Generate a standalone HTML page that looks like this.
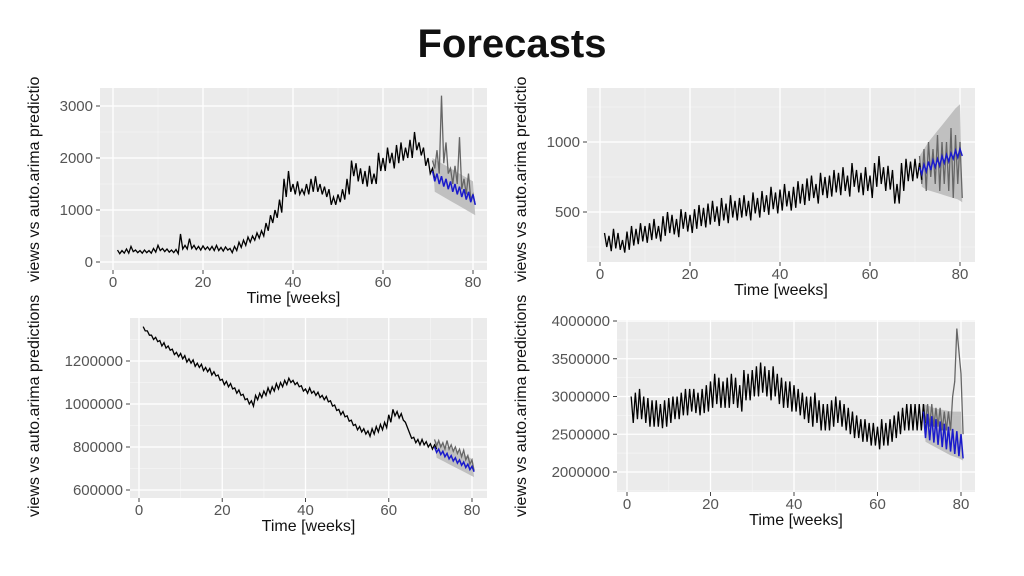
<!DOCTYPE html>
<html><head><meta charset="utf-8"><style>
html,body{margin:0;padding:0;background:#fff;}
svg{display:block;font-family:"Liberation Sans",Arial,sans-serif;}
</style></head><body>
<svg id="chart" width="1024" height="576" viewBox="0 0 1024 576" xmlns="http://www.w3.org/2000/svg">
<text x="512" y="57" text-anchor="middle" font-size="40" font-weight="bold" fill="#111">Forecasts</text>
</svg>
<script>
// ---- Panel 1 data (weekly high / low) ----
const p1Hi=[230,220,250,300,230,220,230,220,260,320,260,250,230,240,540,320,450,320,300,310,290,300,320,280,290,260,300,380,420,480,500,560,600,750,900,1000,1200,1600,1750,1500,1550,1400,1500,1600,1650,1500,1450,1400,1250,1300,1400,1600,1950,1900,1800,1750,1850,1700,2100,2000,2200,2100,2250,2300,2200,2350,2500,2300,2200,2000,1800];
const p1Lo=[160,170,170,200,180,170,180,170,190,220,200,190,180,160,250,250,260,240,230,240,230,220,220,210,230,180,220,280,320,380,420,460,500,600,750,850,950,1250,1350,1300,1300,1300,1300,1350,1350,1300,1250,1100,1100,1150,1200,1300,1650,1550,1500,1450,1500,1500,1750,1750,1900,1800,1900,1950,2000,2000,2150,2050,1850,1700,1600];
const p1FcHi=[1750,1700,1650,1600,1550,1500,1450,1400,1350,1300];
const p1FcLo=[1550,1500,1450,1400,1350,1300,1250,1200,1150,1100];
const p1BandUp=[2000,1950,1900,1850,1800,1750,1700,1650,1600,1550];
const p1BandLow=[1350,1300,1250,1200,1150,1100,1050,1000,950,900];
const p1ActHi=[1950,2150,3200,2300,1800,1850,2400,1600,1700,1300];
const p1ActLo=[1800,1700,1900,1700,1500,1500,1400,1300,1200,1100];
// ---- Panel 2 data ----
const p2Hi=[350,330,380,350,300,360,400,380,420,400,420,450,400,470,500,480,450,520,500,480,520,550,530,560,580,540,600,560,620,580,600,620,580,640,600,650,620,680,640,660,700,650,680,720,700,740,760,700,780,750,760,800,780,820,760,850,800,780,820,760,850,900,820,830,800,700,850,880,860,880,850];
const p2Lo=[250,220,240,230,210,230,260,270,290,280,300,310,290,330,350,340,320,380,360,350,380,400,390,410,430,400,440,420,460,440,460,470,440,490,460,500,480,520,490,510,540,510,530,560,550,580,600,560,620,600,610,640,620,650,610,680,640,620,650,600,680,700,650,660,560,560,650,720,720,740,730];
const p2FcHi=[820,840,860,870,880,900,910,920,940,950];
const p2FcLo=[770,790,800,820,830,850,860,880,890,900];
const p2BandUp=[900,950,1000,1040,1080,1120,1160,1200,1240,1270];
const p2BandLow=[680,660,650,640,630,620,610,600,590,570];
const p2ActHi=[900,950,1000,950,1050,1000,1000,1100,1050,1000];
const p2ActLo=[700,650,750,700,650,700,650,600,700,600];
// ---- Panel 3 data ----
const p3Hi=[1360,1340,1320,1310,1295,1285,1270,1255,1240,1235,1225,1210,1205,1190,1185,1170,1165,1150,1135,1115,1105,1095,1075,1065,1045,1025,1015,1040,1050,1060,1075,1080,1095,1100,1110,1120,1110,1100,1085,1070,1075,1060,1055,1040,1035,1015,995,975,965,945,925,905,895,885,875,885,895,905,915,950,975,965,955,915,865,845,835,835,825,815,810];
const p3Lo=[1340,1320,1300,1290,1270,1260,1250,1230,1220,1210,1195,1190,1175,1170,1155,1150,1135,1130,1110,1090,1080,1070,1050,1040,1020,1000,990,1020,1030,1040,1050,1060,1070,1080,1090,1100,1090,1080,1060,1050,1050,1040,1030,1020,1010,990,970,950,940,920,900,880,870,860,850,860,870,880,890,915,945,935,925,890,840,820,810,810,800,790,790];
const p3FcHi=[800,790,780,770,760,750,740,730,720,710];
const p3FcLo=[775,765,755,745,735,725,715,705,695,685];
const p3BandUp=[830,820,810,800,795,785,775,765,755,745];
const p3BandLow=[750,740,730,720,710,700,690,680,670,660];
const p3ActHi=[835,830,820,830,810,800,790,785,760,740];
const p3ActLo=[805,800,790,790,780,770,755,740,720,690];
// ---- Panel 4 data (thousands) ----
const p4Hi=[3000,3050,3100,3000,2980,2950,2950,2900,2950,2980,3000,3000,3050,3100,3100,3100,3050,3100,3150,3200,3300,3250,3200,3250,3300,3250,3150,3350,3300,3350,3400,3450,3400,3350,3400,3300,3250,3200,3200,3150,3100,3050,3000,3000,3050,2950,2900,2900,2950,3000,2950,2900,2850,2800,2750,2700,2700,2650,2650,2600,2700,2650,2700,2750,2800,2850,2900,2900,2900,2900,2900];
const p4Lo=[2650,2700,2700,2650,2600,2600,2600,2580,2600,2650,2700,2700,2750,2750,2800,2780,2750,2780,2800,2850,2900,2850,2850,2850,2900,2850,2800,2950,2950,3000,3000,3050,3000,2950,3000,2900,2850,2850,2800,2800,2750,2700,2650,2600,2650,2550,2550,2550,2600,2650,2600,2550,2500,2450,2450,2400,2400,2350,2350,2300,2350,2350,2400,2450,2500,2550,2550,2550,2550,2550,2550];
const p4FcHi=[2800,2770,2740,2700,2670,2640,2600,2570,2540,2500];
const p4FcLo=[2450,2420,2390,2360,2330,2300,2270,2240,2210,2180];
const p4BandUp=[2900,2880,2860,2840,2830,2820,2810,2800,2800,2800];
const p4BandLow=[2400,2370,2340,2310,2280,2250,2220,2200,2180,2150];
const p4ActHi=[2900,2900,2900,2850,2850,2800,2800,3000,3900,3300];
const p4ActLo=[2650,2600,2600,2600,2550,2550,2550,3200,3600,2500];
// ---- tick labels ----
const p1YTicks=[0,1000,2000,3000];
const p2YTicks=[500,1000];
const p3YTicks=[600000,800000,1000000,1200000];
const p4YTicks=[2000000,2500000,3000000,3500000,4000000];
const xTicks=[0,20,40,60,80];

const NS="http://www.w3.org/2000/svg";
const svg=document.getElementById('chart');
function mk(tag,attrs,parent){const e=document.createElementNS(NS,tag);for(const k in attrs)e.setAttribute(k,attrs[k]);(parent||svg).appendChild(e);return e;}

function panel(cfg){
  const g=mk('g',{});
  
  
  const sx=v=>cfg.x0+(v-0)*(cfg.x80-cfg.x0)/80;
  const sy=v=>cfg.yA+(v-cfg.vA)*(cfg.yB-cfg.yA)/(cfg.vB-cfg.vA);
  const bg=mk('rect',{x:cfg.L,y:cfg.T,width:cfg.R-cfg.L,height:cfg.B-cfg.T,fill:'#ebebeb'},g);
  
  
  for(let v=10;v<=70;v+=20)mk('line',{x1:sx(v),x2:sx(v),y1:cfg.T,y2:cfg.B,stroke:'#f5f5f5','stroke-width':0.7},g);
  for(let i=0;i<cfg.yt.length;i++){const st=cfg.yt[1]-cfg.yt[0];const m=cfg.yt[i]+st/2;const y=sy(m);if(y>cfg.T&&y<cfg.B)mk('line',{x1:cfg.L,x2:cfg.R,y1:y,y2:y,stroke:'#f5f5f5','stroke-width':0.7},g);const m2=cfg.yt[i]-st/2;const y2=sy(m2);if(i==0&&y2>cfg.T&&y2<cfg.B)mk('line',{x1:cfg.L,x2:cfg.R,y1:y2,y2:y2,stroke:'#f5f5f5','stroke-width':0.7},g);}
  xTicks.forEach(v=>{
    mk('line',{x1:sx(v),x2:sx(v),y1:cfg.T,y2:cfg.B,stroke:'#fff','stroke-width':1.3},g);
    mk('line',{x1:sx(v),x2:sx(v),y1:cfg.B,y2:cfg.B+4,stroke:'#444','stroke-width':1},g);
    const t=mk('text',{x:sx(v),y:cfg.B+17,'text-anchor':'middle','font-size':15,fill:'#555'},g);t.textContent=v;
    
    
  });
  cfg.yt.forEach(v=>{
    const y=sy(v);
    mk('line',{x1:cfg.L,x2:cfg.R,y1:y,y2:y,stroke:'#fff','stroke-width':1.3},g);
    mk('line',{x1:cfg.L-4,x2:cfg.L,y1:y,y2:y,stroke:'#444','stroke-width':1},g);
    const t=mk('text',{x:cfg.L-7,y:y+5,'text-anchor':'end','font-size':15,fill:'#555'},g);t.textContent=v;
    
    
  });
  const f=cfg.f;
  let band='';
  f.bu.forEach((v,i)=>{band+=(i?'L':'M')+sx(71+i)+','+sy(v);});
  for(let i=f.bl.length-1;i>=0;i--)band+='L'+sx(71+i+0.5)+','+sy(f.bl[i]);
  const bp=mk('path',{d:band+'Z',fill:'#b5b5b5',opacity:0.8},g);
  
  
  const zig=(hi,lo,start)=>{let d='';hi.forEach((v,i)=>{d+=(i?'L':'M')+sx(start+i)+','+sy(v)+'L'+sx(start+i+0.5)+','+sy(lo[i]);});return d;};
  const act=mk('path',{d:zig(f.ah,f.al,71),fill:'none',stroke:'#666','stroke-width':1.3},g);
  
  
  const obs=mk('path',{d:zig(cfg.hi,cfg.lo,1),fill:'none',stroke:'#000','stroke-width':1.3},g);
  
  
  const fc=mk('path',{d:zig(f.h,f.l,71),fill:'none',stroke:'#1a1acc','stroke-width':1.5},g);
  
  
  const xt=mk('text',{x:(cfg.L+cfg.R)/2,y:cfg.B+33,'text-anchor':'middle','font-size':16,fill:'#111'},g);xt.textContent='Time [weeks]';
  
  
  const yt=mk('text',{x:0,y:0,'text-anchor':'start','font-size':16,fill:'#111',transform:`translate(${cfg.ytx},${cfg.yty}) rotate(-90)`},g);yt.textContent=cfg.ytitle;
  
  
}
panel({name:'panel-top-left',L:100,R:487,T:88,B:270,x0:113,x80:473,vA:0,yA:262,vB:3000,yB:106,yt:p1YTicks,hi:p1Hi,lo:p1Lo,
  f:{h:p1FcHi,l:p1FcLo,bu:p1BandUp,bl:p1BandLow,ah:p1ActHi,al:p1ActLo},ytx:39,yty:282,ytitle:'views vs auto.arima predictio'});
panel({name:'panel-top-right',L:587,R:975,T:88,B:262,x0:600,x80:960,vA:500,yA:212,vB:1000,yB:142,yt:p2YTicks,hi:p2Hi,lo:p2Lo,
  f:{h:p2FcHi,l:p2FcLo,bu:p2BandUp,bl:p2BandLow,ah:p2ActHi,al:p2ActLo},ytx:526,yty:282,ytitle:'views vs auto.arima predictio'});
panel({name:'panel-bottom-left',L:130,R:487,T:318,B:498,x0:139,x80:472,vA:600000,yA:490,vB:1200000,yB:361,yt:p3YTicks,
  hi:p3Hi.map(v=>v*1000),lo:p3Lo.map(v=>v*1000),
  f:{h:p3FcHi.map(v=>v*1000),l:p3FcLo.map(v=>v*1000),bu:p3BandUp.map(v=>v*1000),bl:p3BandLow.map(v=>v*1000),ah:p3ActHi.map(v=>v*1000),al:p3ActLo.map(v=>v*1000)},
  ytx:39,yty:517,ytitle:'views vs auto.arima predictions'});
panel({name:'panel-bottom-right',L:617,R:975,T:320,B:492,x0:627,x80:961,vA:2000000,yA:472,vB:4000000,yB:321,yt:p4YTicks,
  hi:p4Hi.map(v=>v*1000),lo:p4Lo.map(v=>v*1000),
  f:{h:p4FcHi.map(v=>v*1000),l:p4FcLo.map(v=>v*1000),bu:p4BandUp.map(v=>v*1000),bl:p4BandLow.map(v=>v*1000),ah:p4ActHi.map(v=>v*1000),al:p4ActLo.map(v=>v*1000)},
  ytx:526,yty:517,ytitle:'views vs auto.arima predictions'});
</script>
</body></html>
